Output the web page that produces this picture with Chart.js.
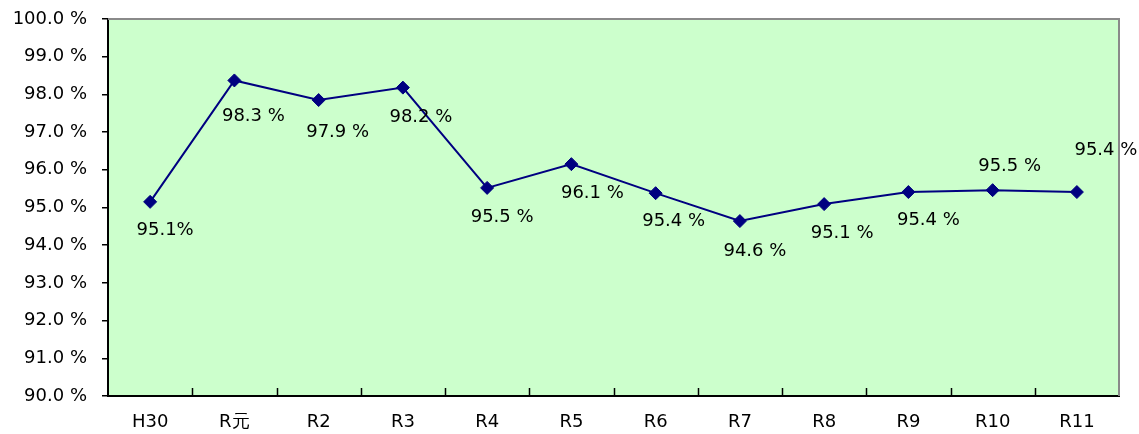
<!DOCTYPE html>
<html>
<head>
<meta charset="utf-8">
<script src="https://cdn.jsdelivr.net/npm/chart.js@4/dist/chart.umd.min.js"></script>
<style>
html,body{margin:0;padding:0;background:#fff;}
#wrap{position:relative;width:1139px;height:434px;}
</style>
</head>
<body>
<div id="wrap"><canvas id="c" width="1139" height="434"></canvas></div>
<script>
const categories = ["H30","R元","R2","R3","R4","R5","R6","R7","R8","R9","R10","R11"];
const rates = [95.15, 98.37, 97.85, 98.18, 95.52, 96.15, 95.38, 94.64, 95.09, 95.41, 95.46, 95.41];
const pointLabels = ["95.1%","98.3 %","97.9 %","98.2 %","95.5 %","96.1 %","95.4 %","94.6 %","95.1 %","95.4 %","95.5 %","95.4 %"];
const yTickMin = 90, yTickMax = 100, yTickStep = 1;

// label placement offsets (style, not data): [dx, dy] from point
const labelOffsets = [[15,28],[19,36],[19,32],[18,30],[15,29],[21,29],[18,28],[15,30],[18,29],[20,28],[17,-24],[29,-42]];

const FONT = "'DejaVu Sans', sans-serif";
const FSIZE = 18;

const bgPlugin = {
  id: 'bg',
  beforeDraw(chart) {
    const {ctx, chartArea: a} = chart;
    ctx.save();
    ctx.fillStyle = '#CCFFCC';
    ctx.fillRect(a.left, a.top, a.right - a.left, a.bottom - a.top);
    ctx.restore();
  },
  afterDatasetsDraw(chart) {
    const {ctx, chartArea: a} = chart;
    const xs = chart.scales.x;
    ctx.save();
    ctx.strokeStyle = '#8a8a8a';
    ctx.lineWidth = 2;
    ctx.beginPath();
    ctx.moveTo(a.left, a.top);
    ctx.lineTo(a.right, a.top);
    ctx.lineTo(a.right, a.bottom);
    ctx.stroke();
    ctx.strokeStyle = '#000';
    ctx.lineWidth = 1.5;
    const n = categories.length;
    for (let i = 1; i < n; i++) {
      const x = Math.round((xs.getPixelForValue(i - 1) + xs.getPixelForValue(i)) / 2) + 0.5;
      ctx.beginPath();
      ctx.moveTo(x, a.bottom);
      ctx.lineTo(x, a.bottom - 8);
      ctx.stroke();
    }
    const meta = chart.getDatasetMeta(0);
    ctx.fillStyle = '#000';
    ctx.font = FSIZE + 'px ' + FONT;
    ctx.textAlign = 'center';
    ctx.textBaseline = 'middle';
    meta.data.forEach((pt, i) => {
      const o = labelOffsets[i];
      ctx.fillText(pointLabels[i], pt.x + o[0], pt.y + o[1]);
    });
    ctx.restore();
  }
};

new Chart(document.getElementById('c'), {
  type: 'line',
  data: {
    labels: categories,
    datasets: [{
      data: rates,
      borderColor: '#000080',
      backgroundColor: '#000080',
      borderWidth: 2,
      pointStyle: 'rectRot',
      pointRadius: 6.5,
      pointBorderWidth: 1,
      pointBackgroundColor: '#000080',
      pointBorderColor: '#000080',
      tension: 0,
      fill: false
    }]
  },
  options: {
    responsive: false,
    animation: false,
    layout: { padding: { top: 19, right: 20, left: 0, bottom: 0 } },
    plugins: { legend: { display: false }, tooltip: { enabled: false } },
    scales: {
      x: {
        offset: true,
        grid: { display: false, drawTicks: false },
        border: { display: true, color: '#000', width: 2 },
        ticks: { color: '#000', font: { family: FONT, size: FSIZE }, padding: 16, maxRotation: 0 },
        afterFit(s) { s.height = 38; s.paddingLeft = 0; s.paddingRight = 0; }
      },
      y: {
        min: yTickMin, max: yTickMax,
        grid: { drawOnChartArea: false, drawTicks: true, tickLength: 6, color: '#000', lineWidth: 1.5 },
        border: { display: true, color: '#000', width: 2 },
        ticks: {
          stepSize: yTickStep,
          color: '#000',
          font: { family: FONT, size: FSIZE },
          padding: 15,
          callback: v => v.toFixed(1) + ' %'
        },
        afterFit(s) { s.width = 108; s.paddingTop = 0; s.paddingBottom = 0; }
      }
    }
  },
  plugins: [bgPlugin]
});
</script>
</body>
</html>
